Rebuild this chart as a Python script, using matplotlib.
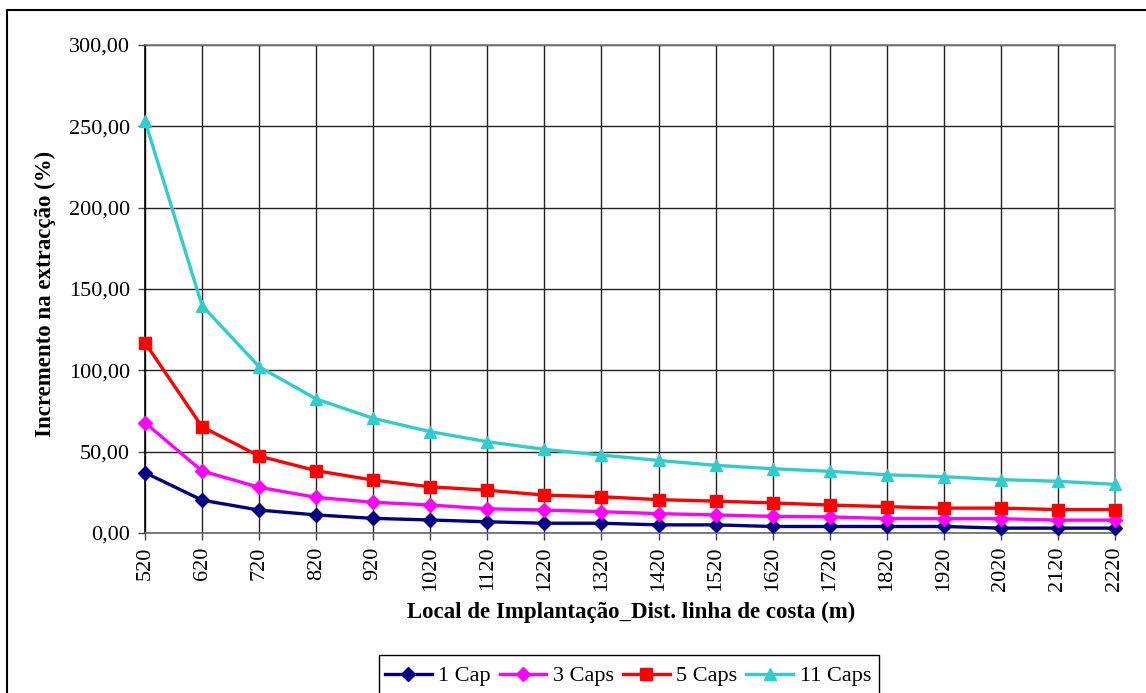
import numpy as np
import matplotlib.pyplot as plt
from matplotlib.patches import Rectangle

plt.rcParams['font.family'] = ['Liberation Serif', 'DejaVu Serif']

# Distância à linha de costa (m)
distancias = [520, 620, 720, 820, 920, 1020, 1120, 1220, 1320, 1420,
              1520, 1620, 1720, 1820, 1920, 2020, 2120, 2220]

# Incremento na extracção (%) para cada número de captações
cap_1 = [37.1, 20.2, 14.1, 11.1, 9.0, 8.0, 6.9, 6.0, 6.0, 5.0,
         5.0, 4.0, 4.0, 4.0, 4.0, 3.0, 3.0, 3.0]
caps_3 = [67.8, 38.1, 28.1, 21.9, 18.9, 17.2, 14.9, 14.1, 13.1, 11.9,
          11.1, 10.2, 9.9, 8.9, 8.8, 8.8, 7.9, 7.9]
caps_5 = [117.0, 65.3, 47.3, 38.3, 32.5, 28.4, 26.3, 23.3, 22.3, 20.5,
          19.6, 18.5, 17.2, 16.2, 15.3, 15.3, 14.4, 14.4]
caps_11 = [253.4, 139.8, 102.2, 82.4, 70.5, 62.3, 56.1, 51.4, 47.9, 44.6,
           41.6, 39.5, 37.9, 35.8, 34.6, 32.8, 31.8, 29.9]

series = [
    ('1 Cap', cap_1, '#000080', 'D', 7),
    ('3 Caps', caps_3, '#FF00FF', 'D', 7),
    ('5 Caps', caps_5, '#FF0000', 's', 8),
    ('11 Caps', caps_11, '#33CCCC', '^', 8),
]

W, H = 1146, 693
fig = plt.figure(figsize=(W / 100, H / 100), dpi=100)
ax = fig.add_axes([145 / W, 1 - 533 / H, (1115 - 145) / W, (533 - 45) / H])

x = np.arange(len(distancias))
for nome, valores, cor, marcador, ms in series:
    ax.plot(x, valores, color=cor, lw=2.4, marker=marcador, ms=ms,
            mec=cor, mfc=cor, label=nome, clip_on=False, zorder=3)

ax.set_xlim(0, len(distancias) - 1)
ax.set_ylim(0, 300)
ax.set_xticks(x)
ax.set_xticklabels([str(d) for d in distancias], rotation=90, fontsize=16)
ax.set_yticks(np.arange(0, 301, 50))
ax.set_yticklabels([f'{v:.2f}'.replace('.', ',') for v in np.arange(0, 301, 50)],
                   fontsize=16)
ax.tick_params(axis='both', direction='out', length=4.8, width=1, color='#444444')
ax.tick_params(axis='x', pad=5)
ax.tick_params(axis='y', pad=6)

ax.grid(True, color='#222222', lw=1)
ax.set_axisbelow(True)
ax.spines['left'].set_color('black')
ax.spines['bottom'].set_color('#666666')
ax.spines['top'].set_color('#777777')
ax.spines['right'].set_color('#777777')
for s in ax.spines.values():
    s.set_linewidth(1.2)

fig.text(45 / W, 1 - 294 / H, 'Incremento na extracção (%)', rotation=90,
         ha='center', va='center', fontsize=16.5, fontweight='bold')
fig.text(631 / W, 1 - 612 / H, 'Local de Implantação_Dist. linha de costa (m)',
         ha='center', va='center', fontsize=16.5, fontweight='bold')

# moldura exterior do gráfico
fig.patches.append(Rectangle((7 / W, -0.05), 1.1, 1 - 9.5 / H + 0.05,
                             transform=fig.transFigure, fill=False,
                             ec='black', lw=1.5))

# legenda com moldura própria
fig.patches.append(Rectangle((379 / W, -0.05), (879 - 379) / W,
                             1 - 655 / H + 0.05, transform=fig.transFigure,
                             fill=False, ec='black', lw=1))
fig.legend(loc='center', bbox_to_anchor=(628 / W, 1 - 676 / H), ncol=4,
           frameon=False, fontsize=16, handlelength=2.1, columnspacing=0.4,
           handletextpad=0.3, borderaxespad=0, borderpad=0)

fig.savefig('out.png', dpi=100)
